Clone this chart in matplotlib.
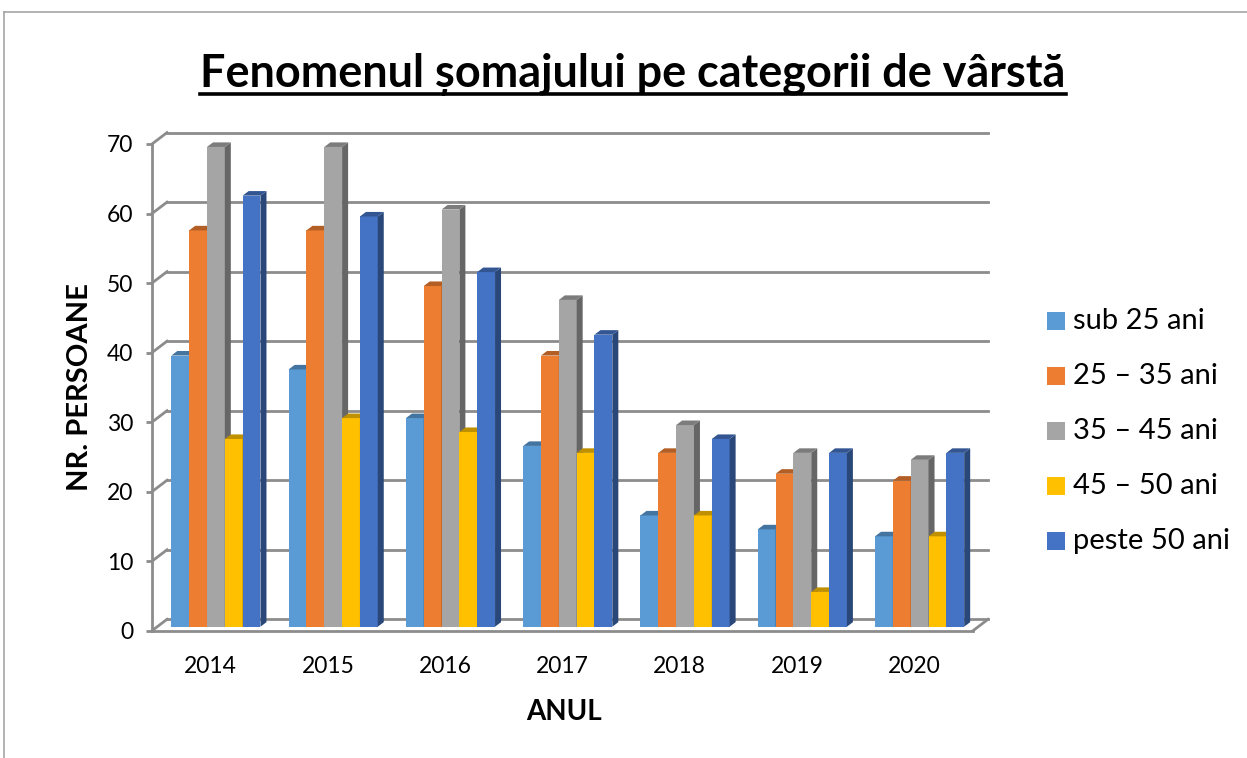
import numpy as np
import matplotlib
matplotlib.use("Agg")
import matplotlib.pyplot as plt
from matplotlib.patches import Polygon, Rectangle
from matplotlib.lines import Line2D
from matplotlib.colors import to_rgb

plt.rcParams['font.family'] = ['Lato', 'DejaVu Sans']

title = "Fenomenul șomajului pe categorii de vârstă"
years = ['2014', '2015', '2016', '2017', '2018', '2019', '2020']
labels = ['sub 25 ani', '25 – 35 ani', '35 – 45 ani', '45 – 50 ani', 'peste 50 ani']
sub25 = [39, 37, 30, 26, 16, 14, 13]
ani25_35 = [57, 57, 49, 39, 25, 22, 21]
ani35_45 = [69, 69, 60, 47, 29, 25, 24]
ani45_50 = [27, 30, 28, 25, 16, 5, 13]
peste50 = [62, 59, 51, 42, 27, 25, 25]
colors = ['#5B9BD5', '#ED7D31', '#A5A5A5', '#FFC000', '#4472C4']
data = [sub25, ani25_35, ani35_45, ani45_50, peste50]

W, H = 1247, 758
fig = plt.figure(figsize=(W / 100, H / 100), dpi=100)
# front plane of the 3D box
ax = fig.add_axes([152 / W, 1 - 630.7 / H, 821 / W, 486.7 / H])
n = len(years)
ax.set_xlim(0, n)
ax.set_ylim(0, 70)

ox, oy = 0.128, 1.64      # depth offset (data units) for full depth
d0, d1 = 0.35, 0.75       # bar front / back depth
grid_c = '#8c8c8c'

def shade(c, f):
    r, g, b = to_rgb(c)
    return (r * f, g * f, b * f)

# back wall gridlines + connectors to the front axis
for v in range(0, 80, 10):
    ax.plot([ox, n + ox], [v + oy, v + oy], color=grid_c, lw=2, clip_on=False, zorder=1)
    ax.plot([0, ox], [v, v + oy], color=grid_c, lw=2, clip_on=False, zorder=1)
ax.plot([n, n + ox], [0, oy], color=grid_c, lw=2, clip_on=False, zorder=1)

# bars
bw = 0.76 / len(data)
for j, (vals, c) in enumerate(zip(data, colors)):
    x = np.arange(n) + 0.5 - 0.38 + j * bw + d0 * ox
    ax.bar(x, vals, width=bw, bottom=d0 * oy, align='edge', color=c,
           clip_on=False, zorder=3 + j)
    dx, dy = (d1 - d0) * ox, (d1 - d0) * oy
    for xl, v in zip(x, vals):
        xr = xl + bw
        yb, yt = d0 * oy, v + d0 * oy
        side = Polygon([(xr, yb), (xr + dx, yb + dy), (xr + dx, yt + dy), (xr, yt)],
                       closed=True, facecolor=shade(c, 0.62), edgecolor='none',
                       clip_on=False, zorder=3 + j)
        top = Polygon([(xl, yt), (xr, yt), (xr + dx, yt + dy), (xl + dx, yt + dy)],
                      closed=True, facecolor=shade(c, 0.75), edgecolor='none',
                      clip_on=False, zorder=3 + j)
        ax.add_patch(side)
        ax.add_patch(top)

for s in ['top', 'right']:
    ax.spines[s].set_visible(False)
for s in ['left', 'bottom']:
    ax.spines[s].set_color(grid_c)
    ax.spines[s].set_linewidth(2)
ax.patch.set_alpha(0)

ax.set_xticks(np.arange(n) + 0.5, years)
ax.set_yticks(range(0, 80, 10))
ax.tick_params(axis='x', length=0, pad=18, labelsize=16.5)
ax.tick_params(axis='y', length=4.5, width=2, color=grid_c, pad=9, labelsize=16.5)

# title with underline
t = fig.text(633 / W, 1 - 87 / H, title, ha='center', va='baseline',
             fontsize=36, fontweight='bold')
fig.canvas.draw()
w = t.get_window_extent().width
t.set_fontsize(36 * 866 / w)
fig.canvas.draw()
bb = t.get_window_extent()
fig.add_artist(Line2D([bb.x0 / W, bb.x1 / W], [1 - 93.5 / H, 1 - 93.5 / H],
                      color='black', lw=2.6))

fig.text(80 / W, 1 - 387 / H, 'NR. PERSOANE', rotation=90, ha='center', va='center',
         fontsize=21, fontweight='bold')
fig.text(564 / W, 1 - 712 / H, 'ANUL', ha='center', va='center',
         fontsize=20, fontweight='bold')

# legend
for k, (lab, c) in enumerate(zip(labels, colors)):
    yc = 321 + 55 * k
    fig.add_artist(Rectangle((1047 / W, 1 - (yc + 9) / H), 18 / W, 18 / H,
                             facecolor=c, edgecolor='none'))
    fig.text(1073 / W, 1 - yc / H, lab, ha='left', va='center', fontsize=21)

# outer border
fig.add_artist(Line2D([4 / W, 4 / W], [0, 1 - 12 / H], color='#a6a6a6', lw=1.2))
fig.add_artist(Line2D([4 / W, 1], [1 - 12 / H, 1 - 12 / H], color='#a6a6a6', lw=1.2))

fig.savefig('out.png', dpi=100)
